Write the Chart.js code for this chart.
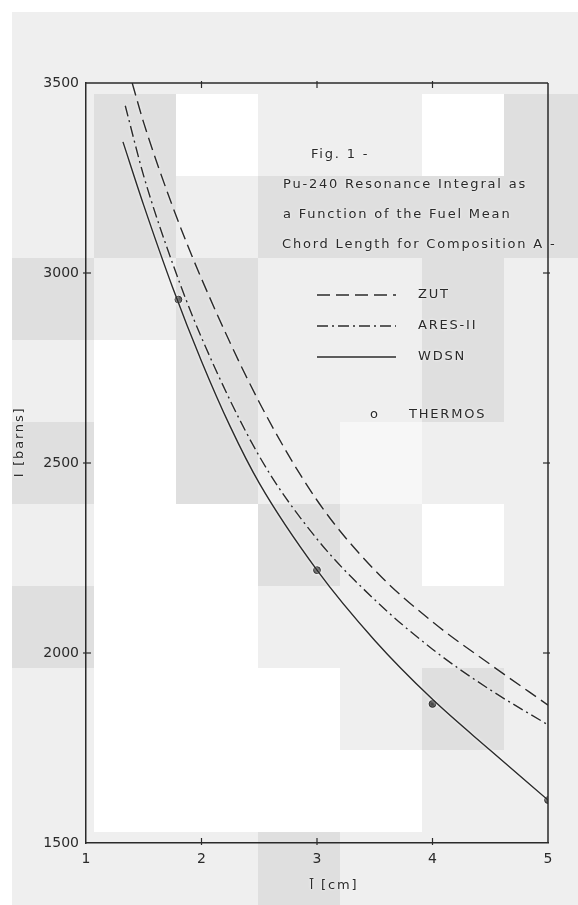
<!DOCTYPE html>
<html>
<head>
<meta charset="utf-8">
<script src="https://cdn.jsdelivr.net/npm/chart.js@4"></script>
<style>
  html, body { margin: 0; padding: 0; background: #fff; }
  #wrap { position: relative; width: 578px; height: 905px; overflow: hidden; }
  #bg div { position: absolute; width: 82px; height: 82px; }
  #c { position: absolute; left: 0; top: 0; }
</style>
</head>
<body>
<div id="wrap">
  <div id="bg"></div>
  <canvas id="c" width="578" height="905"></canvas>
</div>
<script>
(() => {
  "use strict";

  // Data
  const xTicks = [1, 2, 3, 4, 5];
  const yTicks = [1500, 2000, 2500, 3000, 3500];

  const zutX = [1.40, 1.50, 1.75, 2.0, 2.5, 3.0, 3.5, 4.0, 4.5, 5.0];
  const zutY = [3500, 3395, 3175, 2985, 2660, 2402, 2218, 2082, 1970, 1863];

  const aresX = [1.34, 1.50, 1.75, 2.0, 2.5, 3.0, 3.5, 4.0, 4.5, 5.0];
  const aresY = [3440, 3255, 3025, 2830, 2518, 2300, 2140, 2010, 1903, 1811];

  const wdsnX = [1.32, 1.50, 1.75, 2.0, 2.25, 2.5, 3.0, 3.5, 4.0, 4.5, 5.0];
  const wdsnY = [3345, 3178, 2962, 2768, 2595, 2447, 2218, 2033, 1878, 1744, 1613];

  const thermosX = [1.8, 3.0, 4.0, 5.0];
  const thermosY = [2930, 2218, 1866, 1613];

  const captionLines = [
    "Fig. 1 -",
    "Pu-240 Resonance Integral as",
    "a Function of the Fuel Mean",
    "Chord Length for Composition A -"
  ];

  // Style
  const INK = "#2a2a2a";
  const FONT = "DejaVu Sans";
  const pts = (xs, ys) => xs.map((x, i) => ({ x, y: ys[i] }));

  // Scanned paper tiles behind the plot
  const SHADES = { L: "#efefef", D: "#dfdfdf", V: "#f7f7f7", W: "#ffffff" };
  const TILE_ROWS = [
    "LLLLLLL",
    "LDWLLWD",
    "LDLDDDD",
    "DLDLLDL",
    "LWDLLDL",
    "DWDLVLL",
    "LWWDLWL",
    "DWWLLLL",
    "LWWWLDL",
    "LWWWWLL",
    "LLLDLLL"
  ];
  const bg = document.querySelector("#bg");
  TILE_ROWS.forEach((row, j) => {
    [...row].forEach((k, i) => {
      const d = document.createElement("div");
      d.style.left = (12 + i * 82) + "px";
      d.style.top = (12 + j * 82) + "px";
      d.style.background = SHADES[k];
      bg.appendChild(d);
    });
  });

  const line = (ctx, x1, y1, x2, y2) => {
    ctx.beginPath(); ctx.moveTo(x1, y1); ctx.lineTo(x2, y2); ctx.stroke();
  };

  // Frame, inner ticks, caption, legend, axis titles
  const paper = {
    id: "paper",
    beforeDatasetsDraw(chart) {
      const ctx = chart.ctx;
      ctx.save();
      ctx.shadowColor = "#ffffff";
      ctx.shadowBlur = 3;
    },
    afterDatasetsDraw(chart) {
      chart.ctx.restore();
    },
    afterDraw(chart) {
      const { ctx, chartArea: a, scales: { x, y } } = chart;
      ctx.save();
      ctx.strokeStyle = INK;
      ctx.fillStyle = INK;
      ctx.lineWidth = 1.5;
      line(ctx, a.left, a.top, a.right, a.top);
      line(ctx, a.right, a.top, a.right, a.bottom);

      ctx.lineWidth = 1.2;
      xTicks.slice(1, -1).forEach(v => {
        const px = x.getPixelForValue(v);
        line(ctx, px, a.bottom + 2, px, a.bottom - 5);
        line(ctx, px, a.top - 2, px, a.top + 5);
      });
      yTicks.slice(1, -1).forEach(v => {
        const py = y.getPixelForValue(v);
        line(ctx, a.left - 3, py, a.left + 5, py);
        line(ctx, a.right + 2, py, a.right - 5, py);
      });

      ctx.shadowColor = "#ffffff";
      ctx.shadowBlur = 3;
      ctx.font = `13px "${FONT}"`;
      ctx.letterSpacing = "1.8px";
      ctx.textBaseline = "middle";
      ctx.textAlign = "left";

      // caption
      ctx.fillText(captionLines[0], 311, 155);
      ctx.fillText(captionLines[1], 283, 185);
      ctx.fillText(captionLines[2], 283, 215);
      ctx.fillText(captionLines[3], 282, 245);

      // legend
      const sets = chart.data.datasets;
      [0, 1, 2].forEach((i, r) => {
        const ds = sets[i];
        const ly = 295 + r * 31;
        ctx.save();
        ctx.lineWidth = ds.borderWidth;
        ctx.setLineDash(ds.borderDash);
        line(ctx, 317, ly, 396, ly);
        ctx.restore();
        ctx.fillText(ds.label, 418, ly);
      });
      ctx.textAlign = "center";
      ctx.fillText("o", 375, 415);
      ctx.textAlign = "left";
      ctx.fillText(sets[3].label, 409, 415);

      // axis titles
      ctx.textAlign = "center";
      ctx.fillText("l\u0304 [cm]", 334, 886);
      ctx.translate(20, 442);
      ctx.rotate(-Math.PI / 2);
      ctx.fillText("I [barns]", 0, 0);
      ctx.restore();
    }
  };

  const curve = (label, xs, ys, dash) => ({
    label,
    data: pts(xs, ys),
    borderColor: INK,
    borderWidth: 1.4,
    borderDash: dash,
    pointRadius: 0,
    cubicInterpolationMode: "monotone",
    fill: false
  });

  const tickFont = { family: FONT, size: 14 };

  new Chart(document.querySelector("#c"), {
    type: "line",
    data: {
      datasets: [
        curve("ZUT", zutX, zutY, [13, 6]),
        curve("ARES-II", aresX, aresY, [11, 4, 2, 4]),
        curve("WDSN", wdsnX, wdsnY, []),
        {
          label: "THERMOS",
          data: pts(thermosX, thermosY),
          showLine: false,
          pointRadius: 3.4,
          pointBackgroundColor: INK,
          pointBorderColor: INK,
          pointBorderWidth: 1
        }
      ]
    },
    options: {
      responsive: false,
      animation: false,
      layout: { padding: { top: 83, right: 30, left: 0, bottom: 0 } },
      plugins: { legend: { display: false }, tooltip: { enabled: false } },
      scales: {
        x: {
          type: "linear",
          min: 1, max: 5,
          afterFit: s => { s.height = 62; },
          grid: { display: false, drawTicks: false },
          border: { display: true, color: INK, width: 1.5 },
          ticks: { stepSize: 1, padding: 8, font: tickFont, color: INK, maxRotation: 0, callback: v => String(v) }
        },
        y: {
          type: "linear",
          min: 1500, max: 3500,
          afterFit: s => { s.width = 86; },
          grid: { display: false, drawTicks: false },
          border: { display: true, color: INK, width: 1.5 },
          ticks: { stepSize: 500, padding: 7, font: tickFont, color: INK, callback: v => String(v) }
        }
      }
    },
    plugins: [paper]
  });
})();
</script>
</body>
</html>
